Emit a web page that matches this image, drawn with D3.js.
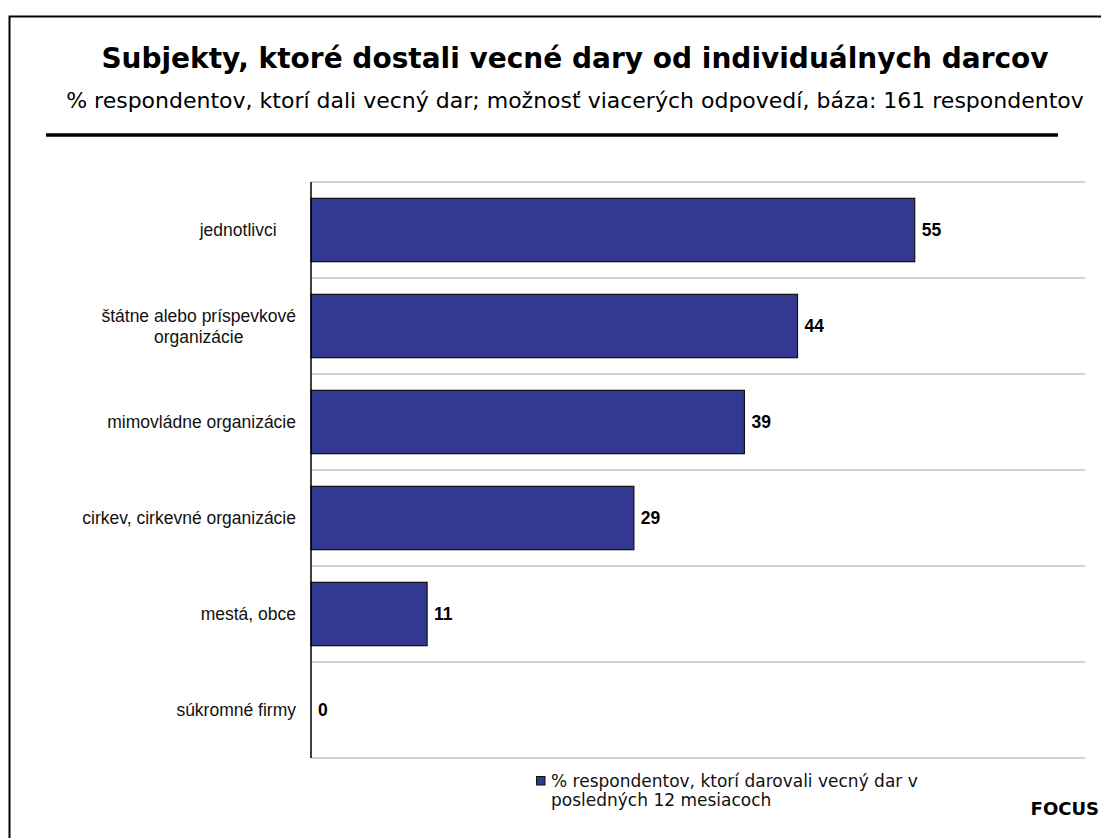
<!DOCTYPE html>
<html>
<head>
<meta charset="utf-8">
<script src="https://cdn.jsdelivr.net/npm/d3@7"></script>
<style>
  html, body { margin: 0; padding: 0; background: #fff; }
  svg { display: block; }
</style>
</head>
<body>
<script>
// ---- data ----
const categories = [
  ["jednotlivci\u00a0\u00a0\u00a0\u00a0"],
  ["štátne alebo príspevkové", "organizácie"],
  ["mimovládne organizácie"],
  ["cirkev, cirkevné organizácie"],
  ["mestá, obce"],
  ["súkromné firmy"]
];
const values = [54.6, 44.0, 39.2, 29.2, 10.5, 0];
const titleText = "Subjekty, ktoré dostali vecné dary od individuálnych darcov";
const subtitleText = "% respondentov, ktorí dali vecný dar; možnosť viacerých odpovedí, báza: 161 respondentov";
const legendLines = ["% respondentov, ktorí darovali vecný dar v", "posledných 12 mesiacoch"];
const sourceText = "FOCUS";
const xDomain = [0, 70];

// ---- layout ----
const W = 1101, H = 838;
const svg = d3.select("body").append("svg").attr("width", W).attr("height", H);

svg.append("rect").attr("x", 9.5).attr("y", 16.5).attr("width", 1110).attr("height", 840)
  .attr("fill", "#fff").attr("stroke", "#000").attr("stroke-width", 2);

const verdana = "Verdana, 'DejaVu Sans', sans-serif";
const arial = "Arial, 'Liberation Sans', sans-serif";

svg.append("text").attr("x", 575).attr("y", 68).attr("text-anchor", "middle")
  .attr("font-family", verdana).attr("font-weight", "bold").attr("font-size", 28)
  .text(titleText);
svg.append("text").attr("x", 575).attr("y", 108).attr("text-anchor", "middle")
  .attr("font-family", verdana).attr("font-size", 22)
  .text(subtitleText);
svg.append("line").attr("x1", 46).attr("x2", 1058).attr("y1", 135).attr("y2", 135)
  .attr("stroke", "#000").attr("stroke-width", 3.5);

const x = d3.scaleLinear().domain(xDomain).range([311, 1085]);
const y = d3.scaleBand().domain(d3.range(categories.length)).range([182, 758])
  .paddingInner(0.34).paddingOuter(0.17);

// gridlines at category boundaries
const bounds = d3.range(categories.length + 1).map(i => 182 + i * y.step());
svg.append("g").selectAll("line").data(bounds).join("line")
  .attr("x1", x(0)).attr("x2", x(xDomain[1]))
  .attr("y1", d => d).attr("y2", d => d)
  .attr("stroke", "#c4c4c4").attr("stroke-width", 1.5);

// bars
svg.append("g").selectAll("rect").data(values).join("rect")
  .attr("x", x(0)).attr("y", (d, i) => y(i))
  .attr("width", d => x(d) - x(0)).attr("height", y.bandwidth())
  .attr("fill", "#333990").attr("stroke", "#111").attr("stroke-width", 1.2)
  .attr("display", d => d > 0 ? null : "none");

// value labels
svg.append("g").selectAll("text").data(values).join("text")
  .attr("x", d => x(d) + 7).attr("y", (d, i) => y(i) + y.bandwidth() / 2)
  .attr("dy", "0.35em")
  .attr("font-family", arial).attr("font-weight", "bold").attr("font-size", 17.5)
  .text(d => Math.round(d));

// axis line
svg.append("line").attr("x1", x(0)).attr("x2", x(0)).attr("y1", 182).attr("y2", 758)
  .attr("stroke", "#000").attr("stroke-width", 1.5);

// category labels (block right-aligned to axis, lines centered within block)
const labG = svg.append("g").attr("font-family", arial).attr("font-size", 17.5).attr("fill", "#111");
categories.forEach((lines, i) => {
  const t = labG.append("text").attr("text-anchor", "middle").style("white-space", "pre");
  const lh = 21;
  const y0 = y(i) + y.bandwidth() / 2 - (lines.length - 1) * lh / 2;
  lines.forEach((ln, j) => t.append("tspan").attr("y", y0 + j * lh).attr("dy", "0.35em").text(ln));
  const widths = [];
  t.selectAll("tspan").each(function () { widths.push(this.getComputedTextLength()); });
  const bw = d3.max(widths);
  t.selectAll("tspan").attr("x", 296 - bw / 2);
});

// legend
svg.append("rect").attr("x", 536.5).attr("y", 776.5).attr("width", 8.5).attr("height", 8.5)
  .attr("fill", "#333990").attr("stroke", "#111").attr("stroke-width", 1);
const lg = svg.append("text").attr("font-family", verdana).attr("font-size", 17).attr("fill", "#111");
legendLines.forEach((ln, j) => lg.append("tspan").attr("x", 551).attr("y", 787 + j * 19).text(ln));

svg.append("text").attr("x", 1099).attr("y", 815).attr("text-anchor", "end")
  .attr("font-family", verdana).attr("font-weight", "bold").attr("font-size", 18)
  .text(sourceText);
</script>
</body>
</html>
